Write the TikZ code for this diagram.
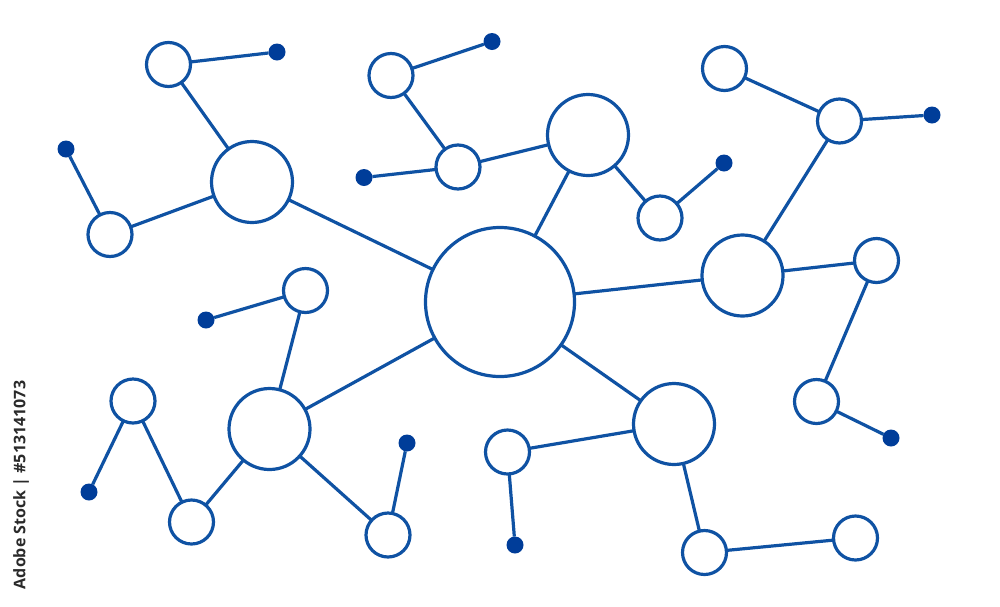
\documentclass[tikz,border=0pt]{standalone}
\usepackage{fontspec}
\setsansfont{Open Sans}
\definecolor{netblue}{HTML}{0F52A3}
\definecolor{dotblue}{HTML}{003D99}
\definecolor{wmgray}{HTML}{2A2A2A}
\begin{document}
\begin{tikzpicture}[x=1pt,y=-1pt,
  hub/.style={circle,draw=netblue,line width=3.2pt,fill=white,minimum size=149pt,inner sep=0pt,outer sep=0pt},
  bignode/.style={circle,draw=netblue,line width=3.2pt,fill=white,minimum size=81pt,inner sep=0pt,outer sep=0pt},
  smallnode/.style={circle,draw=netblue,line width=3.2pt,fill=white,minimum size=44pt,inner sep=0pt,outer sep=0pt},
  enddot/.style={circle,fill=dotblue,minimum size=17pt,inner sep=0pt,outer sep=0pt},
  link/.style={draw=netblue,line width=3.2pt}]
\useasboundingbox (0,0) rectangle (1000,606);
% nodes
\node[hub] (C) at (500,302) {};
\node[bignode] (A) at (252,182) {};
\node[bignode] (D) at (588,135) {};
\node[bignode] (E) at (742.5,275.5) {};
\node[bignode] (F) at (674,424) {};
\node[bignode] (G) at (269.5,429) {};
\node[smallnode] (A1) at (168.5,64.5) {};
\node[smallnode] (A2) at (110,234.5) {};
\node[smallnode] (B1) at (391,75.5) {};
\node[smallnode] (B2) at (458,167) {};
\node[smallnode] (D1) at (660,218) {};
\node[smallnode] (E1) at (724.5,68.5) {};
\node[smallnode] (E2) at (839.5,121) {};
\node[smallnode] (E3) at (876.5,260.5) {};
\node[smallnode] (E4) at (816.5,401.5) {};
\node[smallnode] (F1) at (507.5,452) {};
\node[smallnode] (F2) at (704.5,552.5) {};
\node[smallnode] (F3) at (855.5,538) {};
\node[smallnode] (G1) at (305.5,290.5) {};
\node[smallnode] (G2) at (133,401) {};
\node[smallnode] (G3) at (191.5,522) {};
\node[smallnode] (G4) at (388,535) {};
\node[enddot] (A1d) at (277,52) {};
\node[enddot] (A2d) at (66,149) {};
\node[enddot] (B1d) at (492,41.5) {};
\node[enddot] (B2d) at (364,177.5) {};
\node[enddot] (D1d) at (724,163) {};
\node[enddot] (E2d) at (932,115) {};
\node[enddot] (E4d) at (891,438) {};
\node[enddot] (F1d) at (515,545) {};
\node[enddot] (G1d) at (206,320) {};
\node[enddot] (G2d) at (89,492) {};
\node[enddot] (G4d) at (407,443) {};
% connectors
\path[link] (C) -- (A) (C) -- (D) (C) -- (E) (C) -- (F) (C) -- (G)
  (A) -- (A1) (A1) -- (A1d) (A) -- (A2) (A2) -- (A2d)
  (D) -- (B2) (B2) -- (B1) (B1) -- (B1d) (B2) -- (B2d) (D) -- (D1) (D1) -- (D1d)
  (E) -- (E2) (E2) -- (E1) (E2) -- (E2d) (E) -- (E3) (E3) -- (E4) (E4) -- (E4d)
  (F) -- (F1) (F1) -- (F1d) (F) -- (F2) (F2) -- (F3)
  (G) -- (G1) (G1) -- (G1d) (G) -- (G3) (G3) -- (G2) (G2) -- (G2d) (G) -- (G4) (G4) -- (G4d);
% vertical text
\node[rotate=90,text=wmgray,font=\sffamily\bfseries\fontsize{16}{16}\selectfont,inner sep=0pt] (wm) at (21,485) {Adobe Stock | \#513141073};
\end{tikzpicture}
\end{document}
